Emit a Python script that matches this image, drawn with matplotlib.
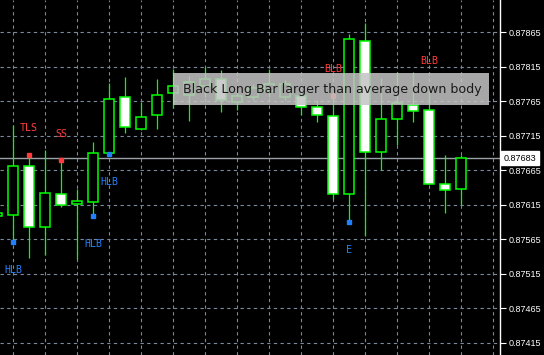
import matplotlib.pyplot as plt
from matplotlib.patches import Rectangle
import numpy as np

# bar index (0 = first full candle on the left)
bars = np.arange(-1, 29)
opens = [0.87599, 0.87600, 0.87671, 0.87583, 0.87631, 0.87616, 0.87619, 0.87690, 0.87771, 0.87725,
         0.87745, 0.87777, 0.87774, 0.87787, 0.87798, 0.87764, 0.87771, 0.87780, 0.87771, 0.87773,
         0.87757, 0.87744, 0.87631, 0.87853, 0.87692, 0.87740, 0.87760, 0.87753, 0.87645, 0.87638]
closes = [0.87604, 0.87671, 0.87583, 0.87632, 0.87615, 0.87621, 0.87690, 0.87769, 0.87728, 0.87742,
          0.87774, 0.87787, 0.87793, 0.87798, 0.87767, 0.87773, 0.87785, 0.87790, 0.87790, 0.87757,
          0.87745, 0.87631, 0.87856, 0.87692, 0.87740, 0.87763, 0.87751, 0.87645, 0.87637, 0.87683]
highs = [0.87611, 0.87731, 0.87687, 0.87695, 0.87680, 0.87638, 0.87706, 0.87792, 0.87800, 0.87764,
         0.87798, 0.87812, 0.87802, 0.87815, 0.87811, 0.87782, 0.87790, 0.87812, 0.87796, 0.87782,
         0.87767, 0.87773, 0.87863, 0.87879, 0.87799, 0.87808, 0.87808, 0.87785, 0.87687, 0.87687]
lows = [0.87591, 0.87561, 0.87538, 0.87542, 0.87612, 0.87537, 0.87599, 0.87689, 0.87719, 0.87724,
        0.87725, 0.87756, 0.87737, 0.87771, 0.87750, 0.87753, 0.87767, 0.87771, 0.87767, 0.87745,
        0.87735, 0.87624, 0.87590, 0.87570, 0.87666, 0.87702, 0.87735, 0.87645, 0.87603, 0.87615]

# signal dots (bar index)
red_dot_bars = [1, 3, 20]
blue_dot_bars = [0, 5, 6, 21]

# pattern labels: (bar, price, text, colour)
labels = [
    (0, 0.87521, "HLB", "blue"),
    (1, 0.87727, "TLS", "red"),
    (3, 0.87718, "SS", "red"),
    (5, 0.87558, "HLB", "blue"),
    (6, 0.87648, "HLB", "blue"),
    (20, 0.87812, "BLB", "red"),
    (21, 0.87550, "E", "blue"),
    (26, 0.87824, "BLB", "red"),
]

price_ticks = [0.87415, 0.87465, 0.87515, 0.87565, 0.87615, 0.87665, 0.87715, 0.87765, 0.87815, 0.87865]
last_price = 0.87683
tooltip = "Black Long Bar larger than average down body"

GREEN = "#00ff00"
RED = "#ff3c3c"
BLUE = "#2080ff"
GRID = "#7a8a9c"

fig = plt.figure(figsize=(5.44, 3.55), dpi=100, facecolor="black")
ax = fig.add_axes([0, 0, 500 / 544, 1])
ax.set_facecolor("black")
ax.set_xlim(-0.8125, 30.4375)
ax.set_ylim(0.873976, 0.879121)

# grid
ax.set_xticks(np.arange(0, 31, 2))
ax.set_yticks(price_ticks)
ax.set_yticklabels([f"{p:.5f}" for p in price_ticks])
ax.grid(True, color=GRID, linestyle=(0, (3, 3)), linewidth=0.8)
ax.tick_params(axis="x", length=0, labelbottom=False)
ax.yaxis.tick_right()
ax.tick_params(axis="y", colors="white", length=4, width=0.8, labelsize=6.5, pad=2)
for lab in ax.get_yticklabels():
    lab.set_fontfamily("Liberation Sans")
for side in ["top", "left", "bottom"]:
    ax.spines[side].set_visible(False)
ax.spines["right"].set_color("white")
ax.spines["right"].set_linewidth(1)

# current price line
ax.axhline(last_price, color="#9aa0a8", linewidth=1, zorder=1)

# candles
w = 0.625
for b, o, c, h, l in zip(bars, opens, closes, highs, lows):
    ax.vlines(b, l, h, color=GREEN, linewidth=0.9, zorder=2)
    face = "black" if c >= o else "white"
    ax.add_patch(Rectangle((b - w / 2, min(o, c)), w, abs(c - o), facecolor=face,
                           edgecolor=GREEN, linewidth=1.1, zorder=3))

# signal dots
hi = dict(zip(bars, highs))
lo = dict(zip(bars, lows))
ax.plot(red_dot_bars, [hi[b] for b in red_dot_bars], "s", color=RED, markersize=2.5, zorder=4)
ax.plot(blue_dot_bars, [lo[b] for b in blue_dot_bars], "s", color=BLUE, markersize=2.5, zorder=4)

for b, p, t, col in labels:
    ax.text(b, p, t, color=RED if col == "red" else BLUE, fontsize=7.2,
            ha="center", va="center", family="DejaVu Sans Mono", zorder=4)

# tooltip box
ax.add_patch(Rectangle((173 / 500, 1 - 105 / 355), 316 / 500, 32 / 355, transform=ax.transAxes,
                       facecolor="#c4c4c4", edgecolor="none", alpha=0.86, zorder=6))
ax.text(183 / 500, 1 - 89 / 355, tooltip, transform=ax.transAxes, fontsize=9.1,
        color="#1a1a1a", ha="left", va="center", zorder=7)

# current price tag
ax.text(1.008, last_price, f"{last_price:.5f}", transform=ax.get_yaxis_transform(),
        fontsize=6.5, family="Liberation Sans", color="black", ha="left", va="center",
        bbox=dict(facecolor="white", edgecolor="white", pad=1.8), clip_on=False, zorder=8)

fig.savefig("out.png", dpi=100, facecolor="black")
